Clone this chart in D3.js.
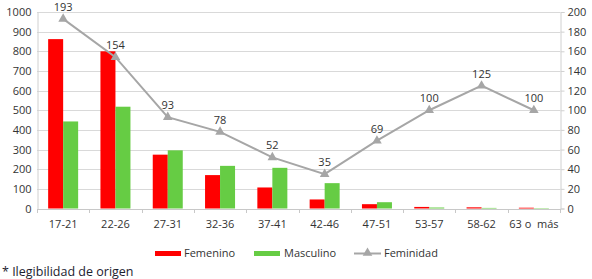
<!DOCTYPE html>
<html><head><meta charset="utf-8">
<script src="https://cdn.jsdelivr.net/npm/d3@7"></script>
<style>body{margin:0;background:#fff}svg{display:block}text{white-space:pre}</style>
</head><body>
<svg id="c" width="592" height="279"></svg>
<script>
const categories = ["17-21","22-26","27-31","32-36","37-41","42-46","47-51","53-57","58-62","63 o  más"];
const femenino = [862, 800, 274, 170, 107, 46, 22, 8, 6, 4];
const masculino = [443, 518, 296, 217, 207, 129, 32, 5, 3, 2];
const feminidad = [193, 154, 93, 78, 52, 35, 69, 100, 125, 100];
const leftTicks = [0,100,200,300,400,500,600,700,800,900,1000];
const rightTicks = [0,20,40,60,80,100,120,140,160,180,200];

const svg = d3.select("#c");
const L = 37, R = 560, T = 12, B = 208.5;
const font = "'Open Sans', sans-serif";

const x = d3.scaleBand().domain(categories).range([L, R]).paddingInner(0).paddingOuter(0);
const yL = d3.scaleLinear().domain([0,1000]).range([B, T]);
const yR = d3.scaleLinear().domain([0,200]).range([B, T]);

// gridlines
svg.append("g").selectAll("line").data(leftTicks.slice(1)).join("line")
  .attr("x1", L).attr("x2", R)
  .attr("y1", d => Math.round(yL(d))+0.5).attr("y2", d => Math.round(yL(d))+0.5)
  .attr("stroke", "#d9d9d9").attr("stroke-width", 1);

// bars
const bw = 15;
const g = svg.append("g");
g.selectAll(".f").data(categories).join("rect")
  .attr("x", d => x(d) + x.bandwidth()/2 - bw)
  .attr("width", bw)
  .attr("y", (d,i) => yL(femenino[i]))
  .attr("height", (d,i) => B - yL(femenino[i]))
  .attr("fill", "#ff0000");
g.selectAll(".m").data(categories).join("rect")
  .attr("x", d => x(d) + x.bandwidth()/2)
  .attr("width", bw)
  .attr("y", (d,i) => yL(masculino[i]))
  .attr("height", (d,i) => B - yL(masculino[i]))
  .attr("fill", "#66cc44");

// left axis
const axL = svg.append("g").attr("transform", `translate(${L+0.5},0)`)
  .call(d3.axisLeft(yL).tickValues(leftTicks).tickFormat(d3.format("d")).tickSize(0).tickPadding(6));
axL.select(".domain").attr("stroke", "#d0d0d0");
axL.selectAll("text").attr("font-family", font).attr("font-size", 11).attr("fill", "#333");

// right axis
const axR = svg.append("g").attr("transform", `translate(${R+0.5},0)`)
  .call(d3.axisRight(yR).tickValues(rightTicks).tickFormat(d3.format("d")).tickSize(4).tickPadding(3));
axR.select(".domain").attr("stroke", "#d0d0d0");
axR.selectAll("line").attr("stroke", "#d0d0d0");
axR.selectAll("text").attr("font-family", font).attr("font-size", 11).attr("fill", "#333");

// bottom axis
const axB = svg.append("g").attr("transform", `translate(0,${B+0.5})`)
  .call(d3.axisBottom(x).tickSize(0).tickPadding(11));
axB.select(".domain").attr("stroke", "#c8c8c8");
axB.selectAll("text").attr("font-family", font).attr("font-size", 11).attr("fill", "#333");
axB.append("g").selectAll("line").data(categories.concat(["__end"])).join("line")
  .attr("x1", (d,i) => Math.round(L + i*x.bandwidth())+0.5)
  .attr("x2", (d,i) => Math.round(L + i*x.bandwidth())+0.5)
  .attr("y1", 0).attr("y2", 4).attr("stroke", "#c8c8c8");

// feminidad line
const cx = d => x(d) + x.bandwidth()/2;
const line = d3.line().x((d,i) => cx(categories[i])).y(d => yR(d));
svg.append("path").datum(feminidad).attr("d", line)
  .attr("fill", "none").attr("stroke", "#a6a6a6").attr("stroke-width", 2);
const tri = d3.symbol().type(d3.symbolTriangle).size(40);
svg.append("g").selectAll("path").data(feminidad).join("path")
  .attr("d", tri)
  .attr("transform", (d,i) => `translate(${cx(categories[i])},${yR(d)})`)
  .attr("fill", "#a6a6a6");
svg.append("g").selectAll("text").data(feminidad).join("text")
  .attr("x", (d,i) => cx(categories[i]))
  .attr("y", d => yR(d) - 8)
  .attr("text-anchor", "middle")
  .attr("font-family", font).attr("font-size", 11).attr("fill", "#333")
  .text(d => d);

// legend
const lg = svg.append("g").attr("font-family", font).attr("font-size", 11).attr("fill", "#333");
lg.append("rect").attr("x", 155).attr("y", 251).attr("width", 26).attr("height", 5).attr("fill", "#ff0000");
lg.append("text").attr("x", 184).attr("y", 257).text("Femenino");
lg.append("rect").attr("x", 254).attr("y", 251).attr("width", 26).attr("height", 5).attr("fill", "#66cc44");
lg.append("text").attr("x", 284).attr("y", 257).text("Masculino");
lg.append("line").attr("x1", 354).attr("x2", 381).attr("y1", 253.5).attr("y2", 253.5).attr("stroke", "#a6a6a6").attr("stroke-width", 2);
lg.append("path").attr("d", tri).attr("transform", "translate(367.5,253)").attr("fill", "#a6a6a6");
lg.append("text").attr("x", 384).attr("y", 257).text("Feminidad");

// footnote
svg.append("text").attr("x", 2).attr("y", 276)
  .attr("font-family", font).attr("font-size", 12.5).attr("fill", "#1c2230")
  .text("* Ilegibilidad de origen");
</script>
</body></html>
